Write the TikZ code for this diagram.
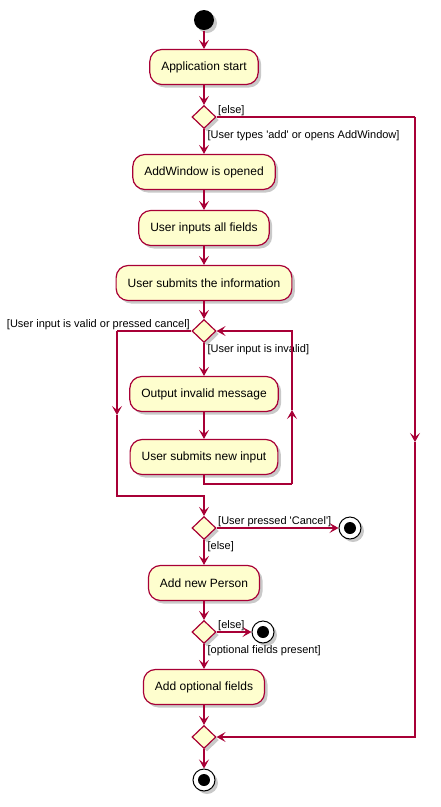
\documentclass[tikz,border=0pt]{standalone}
\usepackage{fontspec}
\setmainfont{Liberation Sans}
\usetikzlibrary{arrows.meta,positioning,shapes.geometric,shadows}
\definecolor{umlred}{HTML}{A80036}
\definecolor{umlfill}{HTML}{FEFECE}

\begin{document}
\begin{tikzpicture}[
  x=1pt, y=-1pt,
  line width=1.2pt,
  shadowed/.style={drop shadow={shadow xshift=3pt,shadow yshift=-3pt,opacity=.3,fill=black!70}},
  act/.style={rectangle, rounded corners=12pt, draw=umlred, fill=umlfill, shadowed,
    minimum height=35pt, inner xsep=11.5pt, font=\fontsize{12}{14}\selectfont},
  dec/.style={diamond, draw=umlred, fill=umlfill, shadowed, minimum width=24pt,
    minimum height=23pt, inner sep=0pt},
  startdot/.style={circle, fill=black, minimum size=20pt, inner sep=0pt, shadowed},
  stopdot/.style={circle, draw=black, line width=1pt, fill=white, minimum size=22pt, inner sep=0pt, shadowed,
    path picture={\fill[black] (path picture bounding box.center) circle (6pt);}},
  flow/.style={draw=umlred, -{Stealth[length=9pt,width=10pt,inset=4pt]}},
  wire/.style={draw=umlred},
  lbl/.style={font=\fontsize{11}{13}\selectfont, inner sep=1pt}
]
  \useasboundingbox (0,0) rectangle (440,807);

  \node[startdot] (S)  at (204,20)  {};
  \node[act]      (A1) at (204,67)  {Application start};
  \node[dec]      (D1) at (204,117) {};
  \node[act]      (A2) at (204,172) {AddWindow is opened};
  \node[act]      (A3) at (204,228) {User inputs all fields};
  \node[act]      (A4) at (204,283) {User submits the information};
  \node[dec]      (D2) at (204,331) {};
  \node[act]      (A5) at (204,394) {Output invalid message};
  \node[act]      (A6) at (204,457) {User submits new input};
  \node[dec]      (D3) at (204,528) {};
  \node[stopdot]  (E1) at (350,528) {};
  \node[act]      (A7) at (204,583) {Add new Person};
  \node[dec]      (D4) at (204,632) {};
  \node[stopdot]  (E2) at (263,632) {};
  \node[act]      (A8) at (204,687) {Add optional fields};
  \node[dec]      (D5) at (204,737) {};
  \node[stopdot]  (E3) at (204,780) {};

  % corners of the side paths
  \coordinate (elseTop) at (415,117);
  \coordinate (elseMid) at (415,442);
  \coordinate (elseBot) at (415,737);
  \coordinate (loopBL)  at (204,484);
  \coordinate (loopBR)  at (292,484);
  \coordinate (loopMid) at (292,410);
  \coordinate (loopTR)  at (292,331);
  \coordinate (okTL)    at (117,331);
  \coordinate (okMid)   at (117,415);
  \coordinate (okBL)    at (117,496);
  \coordinate (okBR)    at (204,496);

  \draw[flow] (S) -- (A1);
  \draw[flow] (A1) -- (D1);
  \draw[flow] (D1) -- (A2);
  \node[lbl,anchor=south west] (L1) at (D1.east) {[else]};
  \node[lbl,anchor=north west] (L2) at ([xshift=2pt]D1.south) {[User types \textquotesingle add\textquotesingle{} or opens AddWindow]};
  \draw[wire] (D1.east) -- (elseTop);
  \draw[flow] (elseTop) -- (elseMid);
  \draw[flow] (elseMid) -- (elseBot) -- (D5.east);

  \draw[flow] (A2) -- (A3);
  \draw[flow] (A3) -- (A4);
  \draw[flow] (A4) -- (D2);
  \draw[flow] (D2) -- (A5);
  \node[lbl,anchor=south east] (L3) at (D2.west) {[User input is valid or pressed cancel]};
  \node[lbl,anchor=north west] (L4) at ([xshift=2pt]D2.south) {[User input is invalid]};
  \draw[flow] (A5) -- (A6);
  \draw[wire] (A6.south) -- (loopBL) -- (loopBR);
  \draw[flow] (loopBR) -- (loopMid);
  \draw[flow] (loopMid) -- (loopTR) -- (D2.east);
  \draw[wire] (D2.west) -- (okTL);
  \draw[flow] (okTL) -- (okMid);
  \draw[flow] (okMid) -- (okBL) -- (okBR) -- (D3.north);

  \draw[flow] (D3) -- (E1);
  \node[lbl,anchor=south west] (L5) at (D3.east) {[User pressed \textquotesingle Cancel\textquotesingle]};
  \draw[flow] (D3) -- (A7);
  \node[lbl,anchor=north west] (L6) at ([xshift=2pt]D3.south) {[else]};
  \draw[flow] (A7) -- (D4);
  \draw[flow] (D4) -- (E2);
  \node[lbl,anchor=south west] (L7) at (D4.east) {[else]};
  \draw[flow] (D4) -- (A8);
  \node[lbl,anchor=north west] (L8) at ([xshift=2pt]D4.south) {[optional fields present]};
  \draw[flow] (A8) -- (D5);
  \draw[flow] (D5) -- (E3);
\end{tikzpicture}
\end{document}
